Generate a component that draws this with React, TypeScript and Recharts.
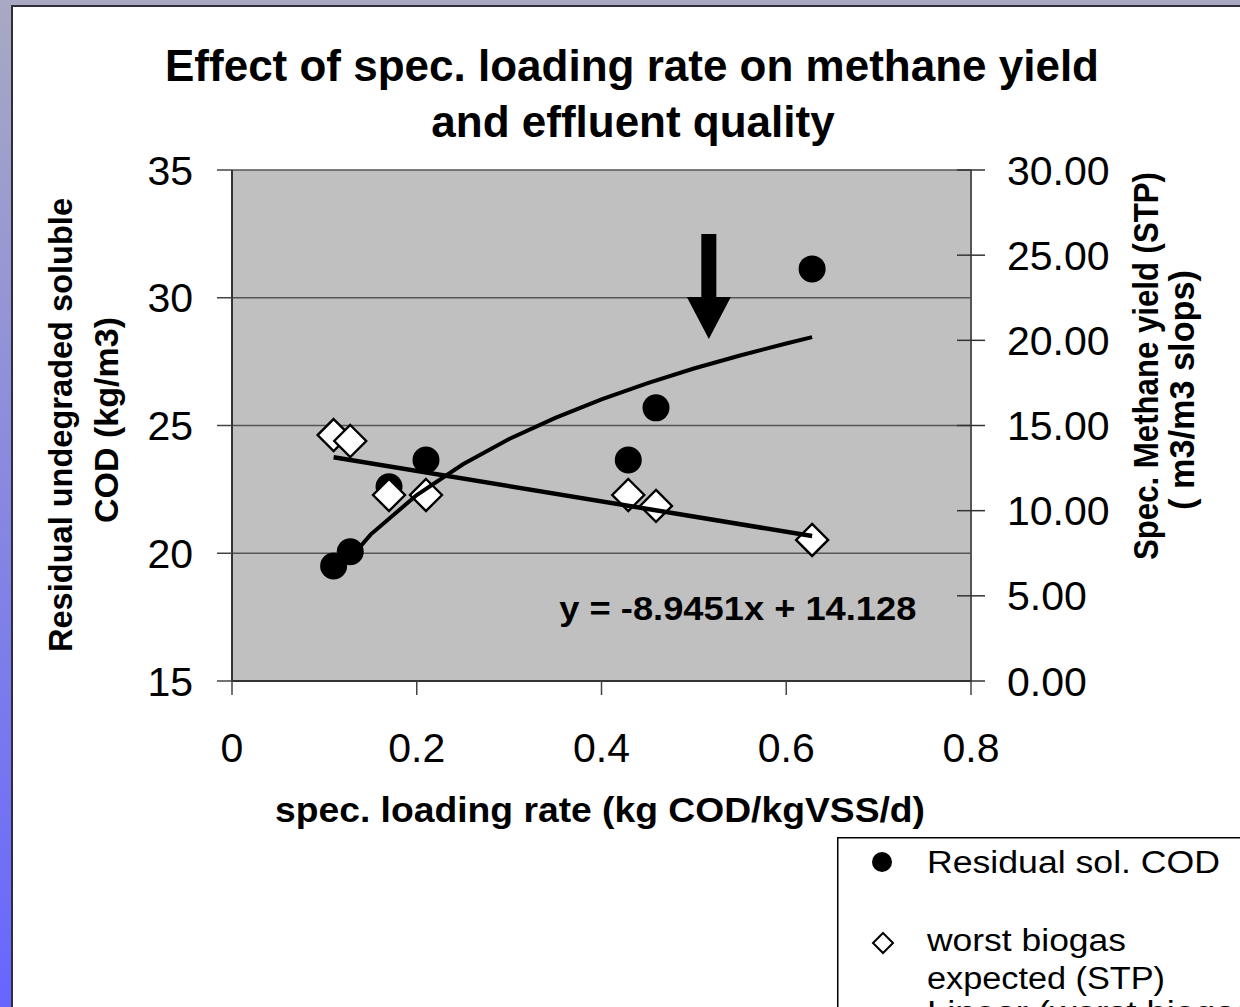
import React from 'react';
import { ScatterChart, Scatter, XAxis, YAxis, CartesianGrid, Legend, ReferenceDot } from 'recharts';

// measured points
const loadingRate = [0.11, 0.128, 0.17, 0.21, 0.429, 0.459, 0.628];
const residualCod = [19.5, 20.06, 22.6, 23.65, 23.65, 25.69, 31.13];
const worstBiogas = [14.44, 14.09, 10.92, 10.92, 10.92, 10.28, 8.28];

// trend curve through the COD points
const codTrendX = [0.11, 0.15, 0.2, 0.25, 0.3, 0.35, 0.4, 0.45, 0.5, 0.55, 0.6, 0.628];
const codTrendY = [19.05, 20.73, 22.28, 23.48, 24.47, 25.3, 26.02, 26.66, 27.23, 27.74, 28.21, 28.46];

// linear trend of the biogas points (y = -8.9451x + 14.128)
const biogasTrendX = [0.11, 0.628];
const biogasTrendY = [13.14, 8.51];

const xTicks = [0, 0.2, 0.4, 0.6, 0.8];
const leftTicks = [15, 20, 25, 30, 35];
const rightTicks = [0, 5, 10, 15, 20, 25, 30];

const FONT = '"Liberation Sans", Arial, Helvetica, sans-serif';

const codPoints = loadingRate.map((x, i) => ({ x, y: residualCod[i] }));
const biogasPoints = loadingRate.map((x, i) => ({ x, y: worstBiogas[i] }));
const codTrend = codTrendX.map((x, i) => ({ x, y: codTrendY[i] }));
const biogasTrend = biogasTrendX.map((x, i) => ({ x, y: biogasTrendY[i] }));

const Dot = (props: any) => <circle cx={props.cx} cy={props.cy} r={13.5} fill="#000" />;

const Diamond = (props: any) => {
  const { cx, cy } = props;
  const h = 16;
  return (
    <polygon
      points={`${cx},${cy - h} ${cx + h},${cy} ${cx},${cy + h} ${cx - h},${cy}`}
      fill="#fff"
      stroke="#000"
      strokeWidth={2.4}
    />
  );
};

const NoShape = () => <g />;

// right axis ticks cross the axis line
const RightTick = (props: any) => {
  const { x, y, payload } = props;
  const axisX = x - 22 - 14;
  return (
    <g>
      <line x1={axisX - 14} y1={y} x2={axisX} y2={y} stroke="#333" strokeWidth={1.5} />
      <text x={x} y={y} dy="0.355em" fontSize={41} fontFamily={FONT} fill="#000">
        {Number(payload.value).toFixed(2)}
      </text>
    </g>
  );
};

const Arrow = (props: any) => {
  const { cx, cy } = props;
  const pts = [
    [cx, cy],
    [cx - 22, cy - 42],
    [cx - 7.5, cy - 42],
    [cx - 7.5, cy - 105],
    [cx + 7.5, cy - 105],
    [cx + 7.5, cy - 42],
    [cx + 22, cy - 42],
  ];
  return <polygon points={pts.map(p => p.join(',')).join(' ')} fill="#000" />;
};

const Equation = (props: any) => (
  <text
    x={props.cx}
    y={props.cy}
    dy="0.36em"
    textAnchor="middle"
    fontSize={33}
    fontWeight="bold"
    fontFamily={FONT}
    textLength={357}
    lengthAdjust="spacingAndGlyphs"
  >
    y = -8.9451x + 14.128
  </text>
);

const LegendBox = () => (
  <svg width={403} height={170} style={{ display: 'block' }}>
    <rect x={0.75} y={0.75} width={430} height={220} fill="#fff" stroke="#000" strokeWidth={1.5} />
    <circle cx={45} cy={25} r={10} fill="#000" />
    <text x={90} y={36} fontSize={31} fontFamily={FONT} textLength={293} lengthAdjust="spacingAndGlyphs">
      Residual sol. COD
    </text>
    <polygon points="46,96 56,106 46,116 36,106" fill="#fff" stroke="#000" strokeWidth={2} />
    <text x={90} y={114} fontSize={31} fontFamily={FONT} textLength={199} lengthAdjust="spacingAndGlyphs">
      worst biogas
    </text>
    <text x={90} y={152} fontSize={31} fontFamily={FONT} textLength={238} lengthAdjust="spacingAndGlyphs">
      expected (STP)
    </text>
    <text transform="translate(90,186) scale(1.17,1)" fontSize={31} fontFamily={FONT}>
      Linear (worst biogas expected (STP))
    </text>
  </svg>
);

export default function App() {
  return (
    <div
      style={{
        position: 'absolute',
        left: 0,
        top: 0,
        width: 1240,
        height: 1007,
        overflow: 'hidden',
        background: '#fff',
        fontFamily: FONT,
      }}
    >
      {/* slide frame */}
      <div style={{ position: 'absolute', left: 0, top: 0, width: 1240, height: 5, background: '#A9A9C3' }} />
      <div style={{ position: 'absolute', left: 0, top: 5, width: 1240, height: 1.5, background: '#2E2E3E' }} />
      <div
        style={{
          position: 'absolute',
          left: 0,
          top: 0,
          width: 11,
          height: 1007,
          background: 'linear-gradient(to bottom, #A9A9C3, #6666FF)',
        }}
      />
      <div style={{ position: 'absolute', left: 11, top: 5, width: 1.5, height: 1002, background: '#2E2E3E' }} />

      <div style={{ position: 'absolute', left: 0, top: 0 }}>
        <ScatterChart width={1240} height={1007} margin={{ top: 170, right: 0, bottom: 266, left: 0 }}>
          <CartesianGrid yAxisId="left" vertical={false} fill="#C0C0C0" fillOpacity={1} stroke="#555" strokeWidth={1.3} />
          <XAxis
            type="number"
            dataKey="x"
            domain={[0, 0.8]}
            ticks={xTicks}
            height={60}
            tickSize={14}
            tickMargin={38}
            axisLine={{ stroke: '#333', strokeWidth: 2 }}
            tickLine={{ stroke: '#444', strokeWidth: 1.5 }}
            tick={{ fontSize: 41, fill: '#000', fontFamily: FONT }}
            tickFormatter={(v: number) => String(v)}
          />
          <YAxis
            yAxisId="left"
            type="number"
            dataKey="y"
            domain={[15, 35]}
            ticks={leftTicks}
            width={232}
            tickSize={15}
            tickMargin={24}
            axisLine={{ stroke: '#333', strokeWidth: 2 }}
            tickLine={{ stroke: '#444', strokeWidth: 1.5 }}
            tick={{ fontSize: 41, fill: '#000', fontFamily: FONT }}
          />
          <YAxis
            yAxisId="right"
            orientation="right"
            type="number"
            dataKey="y"
            domain={[0, 30]}
            ticks={rightTicks}
            width={269}
            tickSize={14}
            tickMargin={22}
            axisLine={{ stroke: '#555', strokeWidth: 2 }}
            tickLine={{ stroke: '#333', strokeWidth: 1.5 }}
            tick={<RightTick />}
          />
          <Legend
            layout="horizontal"
            verticalAlign="middle"
            align="center"
            wrapperStyle={{ left: 837, top: 837, width: 403, height: 170 }}
            content={() => <LegendBox />}
          />
          <Scatter
            name="Residual sol. COD"
            yAxisId="left"
            data={codPoints}
            shape={Dot}
            isAnimationActive={false}
          />
          <Scatter
            name="worst biogas expected (STP)"
            yAxisId="right"
            data={biogasPoints}
            shape={Diamond}
            isAnimationActive={false}
          />
          <Scatter
            name="COD trend"
            yAxisId="left"
            data={codTrend}
            shape={NoShape}
            line={{ stroke: '#000', strokeWidth: 4 }}
            lineType="joint"
            legendType="none"
            isAnimationActive={false}
          />
          <Scatter
            name="Linear (worst biogas expected (STP))"
            yAxisId="right"
            data={biogasTrend}
            shape={NoShape}
            line={{ stroke: '#000', strokeWidth: 4.5 }}
            lineType="joint"
            legendType="none"
            isAnimationActive={false}
          />
          <ReferenceDot yAxisId="left" x={0.5162} y={28.39} shape={Arrow} />
          <ReferenceDot yAxisId="left" x={0.5476} y={17.86} shape={Equation} />
        </ScatterChart>
      </div>

      {/* titles */}
      <svg
        width={1240}
        height={1007}
        style={{ position: 'absolute', left: 0, top: 0, pointerEvents: 'none' }}
        fontFamily={FONT}
        fontWeight="bold"
      >
        <text x={632} y={81} textAnchor="middle" fontSize={44}>
          Effect of spec. loading rate on methane yield
        </text>
        <text x={633} y={137} textAnchor="middle" fontSize={44}>
          and effluent quality
        </text>
        <text transform="translate(72,425) rotate(-90)" textAnchor="middle" fontSize={34} textLength={454} lengthAdjust="spacingAndGlyphs">
          Residual undegraded soluble
        </text>
        <text transform="translate(118,420) rotate(-90)" textAnchor="middle" fontSize={34}>
          COD (kg/m3)
        </text>
        <text transform="translate(1158,366) rotate(-90)" textAnchor="middle" fontSize={35} textLength={388} lengthAdjust="spacingAndGlyphs">
          Spec.  Methane yield (STP)
        </text>
        <text transform="translate(1194,390) rotate(-90)" textAnchor="middle" fontSize={35} textLength={240} lengthAdjust="spacingAndGlyphs">
          ( m3/m3 slops)
        </text>
        <text x={600} y={822} textAnchor="middle" fontSize={35} textLength={650} lengthAdjust="spacingAndGlyphs">
          spec. loading rate (kg COD/kgVSS/d)
        </text>
      </svg>
    </div>
  );
}
